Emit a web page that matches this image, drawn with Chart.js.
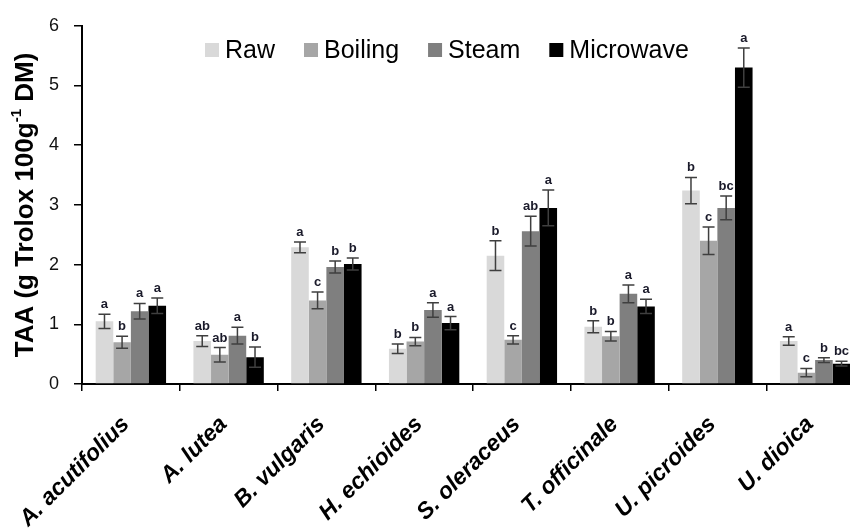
<!DOCTYPE html>
<html>
<head>
<meta charset="utf-8">
<script src="https://cdn.jsdelivr.net/npm/chart.js@4"></script>
<style>
  html, body { margin: 0; padding: 0; background: #fff; overflow: hidden; }
  #wrap { width: 880px; height: 532px; }
</style>
</head>
<body>
<div id="wrap"><canvas id="taaChart" width="880" height="532"></canvas></div>
<script>
const categories = ['A. acutifolius', 'A. lutea', 'B. vulgaris', 'H. echioides', 'S. oleraceus', 'T. officinale', 'U. picroides', 'U. dioica'];
const seriesNames = ['Raw', 'Boiling', 'Steam', 'Microwave'];
const seriesColors = ['#d9d9d9', '#a6a6a6', '#7f7f7f', '#000000'];

const rawValues = [1.05, 0.72, 2.29, 0.59, 2.15, 0.96, 3.24, 0.72];
const boilingValues = [0.70, 0.49, 1.40, 0.71, 0.74, 0.80, 2.40, 0.19];
const steamValues = [1.22, 0.81, 1.96, 1.24, 2.56, 1.51, 2.95, 0.40];
const microwaveValues = [1.31, 0.45, 2.01, 1.02, 2.95, 1.30, 5.30, 0.34];

// standard deviations (error bars)
const rawErrors = [0.12, 0.09, 0.09, 0.08, 0.25, 0.10, 0.22, 0.07];
const boilingErrors = [0.10, 0.12, 0.14, 0.07, 0.07, 0.08, 0.23, 0.07];
const steamErrors = [0.13, 0.14, 0.10, 0.12, 0.25, 0.15, 0.20, 0.04];
const microwaveErrors = [0.13, 0.17, 0.10, 0.11, 0.30, 0.12, 0.33, 0.04];

// significance letters
const rawLetters = ['a', 'ab', 'a', 'b', 'b', 'b', 'b', 'a'];
const boilingLetters = ['b', 'ab', 'c', 'b', 'c', 'b', 'c', 'c'];
const steamLetters = ['a', 'a', 'b', 'a', 'ab', 'a', 'bc', 'b'];
const microwaveLetters = ['a', 'b', 'b', 'a', 'a', 'a', 'a', 'bc'];

const yTicks = [0, 1, 2, 3, 4, 5, 6];

const allValues = [rawValues, boilingValues, steamValues, microwaveValues];
const allErrors = [rawErrors, boilingErrors, steamErrors, microwaveErrors];
const allLetters = [rawLetters, boilingLetters, steamLetters, microwaveLetters];

const errorBars = {
    id: 'errorBars',
    afterDatasetsDraw(chart) {
        const ctx = chart.ctx;
        const y = chart.scales.y;
        chart.data.datasets.forEach((ds, i) => {
            const meta = chart.getDatasetMeta(i);
            meta.data.forEach((bar, j) => {
                const v = ds.data[j];
                const e = ds.errors[j];
                const top = y.getPixelForValue(v + e);
                const bot = y.getPixelForValue(v - e);
                ctx.save();
                ctx.strokeStyle = '#3f3f3f';
                ctx.lineWidth = 1.5;
                ctx.beginPath();
                ctx.moveTo(bar.x, top);
                ctx.lineTo(bar.x, bot);
                ctx.moveTo(bar.x - 6, top);
                ctx.lineTo(bar.x + 6, top);
                ctx.moveTo(bar.x - 6, bot);
                ctx.lineTo(bar.x + 6, bot);
                ctx.stroke();
                ctx.fillStyle = '#1a1a2a';
                ctx.font = 'bold 13px "Liberation Sans", Arial, sans-serif';
                ctx.textAlign = 'center';
                ctx.textBaseline = 'alphabetic';
                ctx.fillText(ds.letters[j], bar.x, top - 6);
                ctx.restore();
            });
        });
    }
};

const customLegend = {
    id: 'customLegend',
    afterDraw(chart) {
        const ctx = chart.ctx;
        ctx.save();
        ctx.font = '25px "Liberation Sans", Arial, sans-serif';
        ctx.textBaseline = 'middle';
        ctx.textAlign = 'left';
        let x = 205;
        const cy = 50;
        chart.data.datasets.forEach(ds => {
            ctx.fillStyle = ds.backgroundColor;
            ctx.fillRect(x, cy - 7, 14, 14);
            ctx.fillStyle = '#000';
            ctx.fillText(ds.label, x + 20, cy + 1);
            x += 20 + ctx.measureText(ds.label).width + 29;
        });
        ctx.restore();
    }
};

const yTitle = {
    id: 'yTitle',
    afterDraw(chart) {
        const ctx = chart.ctx;
        const parts = [
            { t: 'TAA (g Trolox 100g', f: 'bold 26px "Liberation Sans", Arial, sans-serif', dy: 0 },
            { t: '-1', f: 'bold 15px "Liberation Sans", Arial, sans-serif', dy: -9 },
            { t: ' DM)', f: 'bold 26px "Liberation Sans", Arial, sans-serif', dy: 0 }
        ];
        ctx.save();
        ctx.translate(26, 205);
        ctx.rotate(-Math.PI / 2);
        ctx.fillStyle = '#000';
        ctx.textBaseline = 'middle';
        ctx.textAlign = 'left';
        let total = 0;
        parts.forEach(p => { ctx.font = p.f; p.w = ctx.measureText(p.t).width; total += p.w; });
        let x = -total / 2;
        parts.forEach(p => {
            ctx.font = p.f;
            ctx.fillText(p.t, x, p.dy);
            x += p.w;
        });
        ctx.restore();
    }
};

const ctx = document.getElementById('taaChart').getContext('2d');
const taaChart = new Chart(ctx, {
    type: 'bar',
    data: {
        labels: categories,
        datasets: seriesNames.map((name, i) => ({
            label: name,
            data: allValues[i],
            errors: allErrors[i],
            letters: allLetters[i],
            backgroundColor: seriesColors[i],
            borderWidth: 0,
            categoryPercentage: 0.72,
            barPercentage: 1.0
        }))
    },
    options: {
        responsive: false,
        animation: false,
        devicePixelRatio: 1,
        layout: { padding: { top: 21, right: 16, left: 0, bottom: 0 } },
        plugins: {
            legend: { display: false },
            tooltip: { enabled: false }
        },
        scales: {
            x: {
                grid: { drawOnChartArea: false, drawTicks: true, tickLength: 7, color: '#000', lineWidth: 1.5, offset: true },
                border: { color: '#000', width: 2 },
                ticks: {
                    autoSkip: false,
                    minRotation: 45,
                    maxRotation: 45,
                    padding: 20,
                    labelOffset: -5,
                    color: '#000',
                    font: { family: '"Liberation Sans", Arial, sans-serif', size: 23, weight: 'bold', style: 'italic' }
                },
                afterFit(scale) {
                    scale.height = 148;
                    scale.paddingLeft = 0;
                    scale.paddingRight = 0;
                }
            },
            y: {
                min: 0,
                max: 6,
                grid: { drawOnChartArea: false, drawTicks: true, tickLength: 8, color: '#000', lineWidth: 1.5 },
                border: { color: '#000', width: 2 },
                afterBuildTicks(scale) { scale.ticks = yTicks.map(v => ({ value: v })); },
                ticks: {
                    padding: 15,
                    color: '#111',
                    font: { family: '"Liberation Sans", Arial, sans-serif', size: 18 }
                },
                afterFit(scale) { scale.width = 82; }
            }
        }
    },
    plugins: [errorBars, customLegend, yTitle]
});
</script>
</body>
</html>
